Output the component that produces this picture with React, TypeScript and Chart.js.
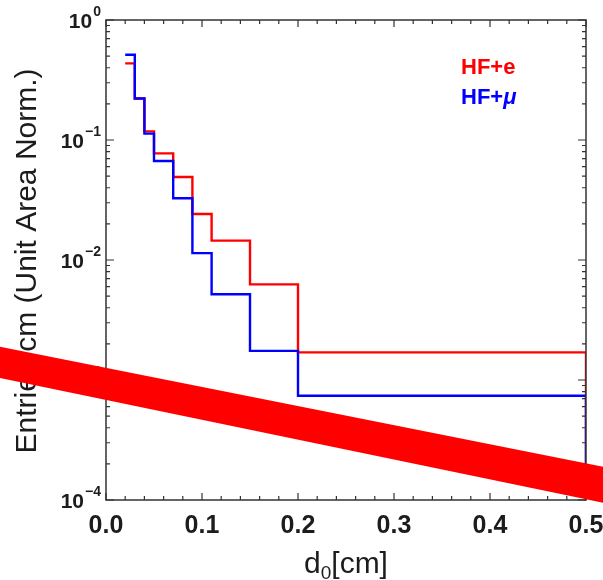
import React, { useEffect, useRef } from "react";
import { Chart, registerables } from "chart.js";

Chart.register(...registerables);

// Transverse impact parameter histogram bins (cm)
const binEdges = [0.02, 0.03, 0.04, 0.05, 0.07, 0.09, 0.11, 0.15, 0.2, 0.5];
// Unit-area normalised entries per cm
const hfElectron = [0.435, 0.222, 0.118, 0.0774, 0.0492, 0.0242, 0.0145, 0.00627, 0.0017];
const hfMuon = [0.514, 0.222, 0.113, 0.0668, 0.0327, 0.0114, 0.00518, 0.00175, 0.00074];

const seriesLabels = ["HF+e", "HF+\u03bc"];
const xTickValues = [0, 0.1, 0.2, 0.3, 0.4, 0.5];
const yDecades = [-4, -3, -2, -1, 0];
const Y_MIN = 1e-4;
const Y_MAX = 1;
const X_MIN = 0;
const X_MAX = 0.5;

const FONT = "'Liberation Sans', Arial, Helvetica, sans-serif";
const TEXT = "#1c1c1c";
const FRAME = "#333333";
const RED = "#ff0000";
const BLUE = "#0000ff";

// Outline of a histogram: one point per bin's left edge, then close at the last edge
function histogramPoints(values: number[]) {
  const pts = values.map((v, i) => ({ x: binEdges[i], y: v }));
  const last = binEdges[binEdges.length - 1];
  pts.push({ x: last, y: values[values.length - 1] });
  pts.push({ x: last, y: Y_MIN });
  return pts;
}

const framePlugin = {
  id: "rootFrame",
  afterDatasetsDraw(chart: any) {
    const { ctx, chartArea: a, scales } = chart;
    const xs = scales.x;
    const ys = scales.y;
    ctx.save();

    // frame
    ctx.strokeStyle = FRAME;
    ctx.lineWidth = 1.5;
    ctx.strokeRect(a.left, a.top, a.right - a.left, a.bottom - a.top);

    // inward tick marks on all four sides
    ctx.lineWidth = 1.2;
    ctx.beginPath();
    for (let i = 0; i <= 25; i++) {
      const px = xs.getPixelForValue(i * 0.02);
      const len = i % 5 === 0 ? 7 : 4;
      ctx.moveTo(px, a.bottom);
      ctx.lineTo(px, a.bottom - len);
      ctx.moveTo(px, a.top);
      ctx.lineTo(px, a.top + len);
    }
    for (const e of yDecades) {
      for (let k = 1; k <= 9; k++) {
        if (e === 0 && k > 1) break;
        const py = ys.getPixelForValue(k * Math.pow(10, e));
        const len = k === 1 ? 8 : 4;
        ctx.moveTo(a.left, py);
        ctx.lineTo(a.left + len, py);
        ctx.moveTo(a.right, py);
        ctx.lineTo(a.right - len, py);
      }
    }
    ctx.stroke();

    // y tick labels as powers of ten
    ctx.fillStyle = TEXT;
    ctx.textBaseline = "alphabetic";
    ctx.textAlign = "left";
    for (const e of yDecades) {
      const py = ys.getPixelForValue(Math.pow(10, e));
      const sup = e === 0 ? "0" : "\u2212" + String(-e);
      ctx.font = `bold 14px ${FONT}`;
      const supW = ctx.measureText(sup).width;
      ctx.font = `bold 21px ${FONT}`;
      const baseW = ctx.measureText("10").width;
      const right = 101;
      ctx.fillText("10", right - supW - baseW - 1, py + 7.5);
      ctx.font = `bold 14px ${FONT}`;
      ctx.fillText(sup, right - supW, py - 4);
    }

    // x tick labels
    ctx.font = `bold 25px ${FONT}`;
    ctx.textAlign = "center";
    for (const v of xTickValues) {
      ctx.fillText(v.toFixed(1), xs.getPixelForValue(v), 533);
    }

    // x axis title with subscript
    const mid = (a.left + a.right) / 2;
    ctx.textAlign = "left";
    ctx.font = `30px ${FONT}`;
    const wD = ctx.measureText("d").width;
    const wRest = ctx.measureText("[cm]").width;
    ctx.font = `19px ${FONT}`;
    const wSub = ctx.measureText("0").width;
    const x0 = mid - (wD + wSub + wRest) / 2;
    ctx.font = `30px ${FONT}`;
    ctx.fillText("d", x0, 573);
    ctx.font = `19px ${FONT}`;
    ctx.fillText("0", x0 + wD, 579);
    ctx.font = `30px ${FONT}`;
    ctx.fillText("[cm]", x0 + wD + wSub, 573);

    // y axis title
    ctx.save();
    ctx.translate(36, (a.top + a.bottom) / 2 + 1);
    ctx.rotate(-Math.PI / 2);
    ctx.textAlign = "center";
    ctx.font = `30px ${FONT}`;
    ctx.fillText("Entries/cm (Unit Area Norm.)", 0, 0);
    ctx.restore();

    // legend text
    ctx.textAlign = "left";
    ctx.font = `bold 22px ${FONT}`;
    ctx.fillStyle = RED;
    ctx.fillText(seriesLabels[0], 461, 74);
    ctx.fillStyle = BLUE;
    const pre = "HF+";
    ctx.fillText(pre, 461, 104);
    const wPre = ctx.measureText(pre).width;
    ctx.font = `italic bold 22px ${FONT}`;
    ctx.fillText(seriesLabels[1].slice(pre.length), 461 + wPre, 104);

    ctx.restore();
  },
  afterDraw(chart: any) {
    // diagonal red band across the figure
    const { ctx } = chart;
    ctx.save();
    ctx.fillStyle = RED;
    ctx.beginPath();
    ctx.moveTo(-5, 345.7);
    ctx.lineTo(610, 468.1);
    ctx.lineTo(610, 504.3);
    ctx.lineTo(-5, 377);
    ctx.closePath();
    ctx.fill();
    ctx.restore();
  },
};

export default function App() {
  const canvasRef = useRef<HTMLCanvasElement | null>(null);

  useEffect(() => {
    document.body.style.margin = "0";
    const canvas = canvasRef.current;
    if (!canvas) return;
    const chart = new Chart(canvas, {
      type: "line",
      data: {
        datasets: [
          {
            label: seriesLabels[0],
            data: histogramPoints(hfElectron),
            borderColor: RED,
            borderWidth: 2.4,
            pointRadius: 0,
            stepped: true,
            fill: false,
            order: 2,
          },
          {
            label: seriesLabels[1],
            data: histogramPoints(hfMuon),
            borderColor: BLUE,
            borderWidth: 2.4,
            pointRadius: 0,
            stepped: true,
            fill: false,
            order: 1,
          },
        ],
      },
      options: {
        animation: false,
        responsive: false,
        layout: { padding: { top: 20, right: 17, left: 0, bottom: 0 } },
        plugins: {
          legend: { display: false },
          tooltip: { enabled: false },
          title: { display: false },
        },
        scales: {
          x: {
            type: "linear",
            min: X_MIN,
            max: X_MAX,
            grid: { display: false, drawTicks: false },
            border: { display: false },
            ticks: { display: false },
            afterFit: (scale: any) => {
              scale.height = 80;
            },
          },
          y: {
            type: "logarithmic",
            min: Y_MIN,
            max: Y_MAX,
            grid: { display: false, drawTicks: false },
            border: { display: false },
            ticks: { display: false },
            afterFit: (scale: any) => {
              scale.width = 106;
            },
          },
        },
      },
      plugins: [framePlugin],
    });
    return () => chart.destroy();
  }, []);

  return (
    <div style={{ position: "absolute", left: 0, top: 0, width: 603, height: 580, background: "#fff" }}>
      <canvas ref={canvasRef} width={603} height={580} style={{ display: "block" }} />
    </div>
  );
}
